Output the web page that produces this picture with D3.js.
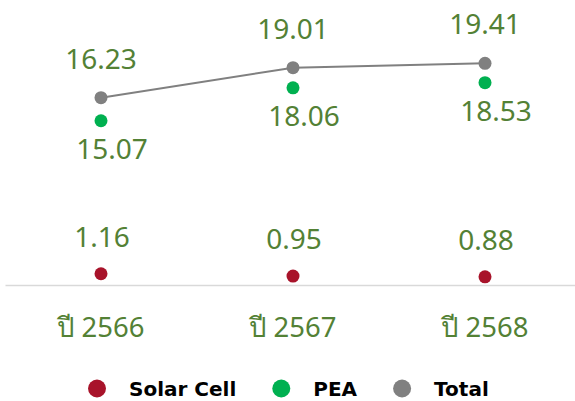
<!DOCTYPE html>
<html>
<head>
<meta charset="utf-8">
<script src="https://cdn.jsdelivr.net/npm/d3@7"></script>
<style>
  html, body { margin: 0; padding: 0; background: #fff; }
  svg { display: block; }
</style>
</head>
<body>
<svg id="chart"></svg>
<script>
// data
const years = ['ปี 2566', 'ปี 2567', 'ปี 2568'];
const solarCell = [1.16, 0.95, 0.88];
const pea = [15.07, 18.06, 18.53];
const total = [16.23, 19.01, 19.41];
const seriesNames = ['Solar Cell', 'PEA', 'Total'];
const seriesColors = ['#a8132a', '#00b050', '#808080'];

const width = 575;
const height = 401;
const labelColor = '#538135';
const labelFont = '"Noto Sans", "Open Sans", sans-serif';

const svg = d3.select('#chart')
    .attr('width', width)
    .attr('height', height);

/* X SCALE */
const xScale = d3.scaleBand()
    .domain(years)
    .range([5, 581]);
const cx = d => xScale(d) + xScale.bandwidth() / 2;

/* Y SCALES (Total sits on its own secondary axis) */
const yScale = d3.scaleLinear()
    .domain([0, 22])
    .range([286.5, 44.5]);
const yScaleTotal = d3.scaleLinear()
    .domain([0, 22])
    .range([273, 35.4]);

/* x axis */
const xAxis = d3.axisBottom(xScale).tickSize(0).tickPadding(0);
const gx = svg.append('g')
    .attr('id', 'x-axis')
    .attr('transform', `translate(0, ${yScale(0) - 1.5})`)
    .call(xAxis);
gx.select('.domain')
    .attr('stroke', '#d9d9d9')
    .attr('stroke-width', 1.3);
gx.selectAll('text')
    .attr('y', 52)
    .attr('dy', 0)
    .attr('fill', labelColor)
    .style('font-family', labelFont)
    .style('font-size', '27.5px');

/* total line */
const line = d3.line()
    .x((d, i) => cx(years[i]))
    .y(d => yScaleTotal(d));
svg.append('path')
    .datum(total)
    .attr('fill', 'none')
    .attr('stroke', seriesColors[2])
    .attr('stroke-width', 2)
    .attr('d', line);

/* points */
function drawPoints(values, scale, color, cls) {
    svg.selectAll('circle.' + cls)
        .data(values).enter()
        .append('circle')
        .attr('class', cls)
        .attr('cx', (d, i) => cx(years[i]))
        .attr('cy', d => scale(d))
        .attr('r', 6.5)
        .attr('fill', color);
}
drawPoints(solarCell, yScale, seriesColors[0], 'solar');
drawPoints(pea, yScale, seriesColors[1], 'pea');
drawPoints(total, yScaleTotal, seriesColors[2], 'total');

/* data labels */
function drawLabels(values, scale, dx, dy, cls) {
    svg.selectAll('text.' + cls)
        .data(values).enter()
        .append('text')
        .attr('class', cls)
        .attr('x', (d, i) => cx(years[i]) + dx)
        .attr('y', d => scale(d) + dy)
        .attr('text-anchor', 'middle')
        .attr('fill', labelColor)
        .style('font-family', labelFont)
        .style('font-size', '28px')
        .text(d => d.toFixed(2));
}
drawLabels(total, yScaleTotal, 0, -29, 'lbl-total');
drawLabels(pea, yScale, 11, 38, 'lbl-pea');
drawLabels(solarCell, yScale, 1, -27, 'lbl-solar');

/* legend */
const legend = svg.append('g').attr('id', 'legend');
let lx = 97;
seriesNames.forEach((name, i) => {
    legend.append('circle')
        .attr('cx', lx)
        .attr('cy', 388.5)
        .attr('r', 9)
        .attr('fill', seriesColors[i]);
    const t = legend.append('text')
        .attr('x', lx + 32)
        .attr('y', 396)
        .attr('fill', '#000')
        .style('font-family', '"DejaVu Sans", sans-serif')
        .style('font-weight', 'bold')
        .style('font-size', '20px')
        .text(name);
    lx += 32 + t.node().getComputedTextLength() + 45;
});
</script>
</body>
</html>
